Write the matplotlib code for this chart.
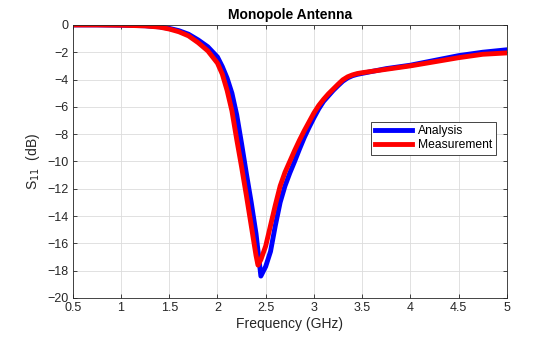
import matplotlib
matplotlib.use("Agg")
import matplotlib.pyplot as plt

# frequency points (GHz) and S11 (dB)
freq_analysis = [0.5, 0.75, 1.0, 1.25, 1.4, 1.5, 1.6, 1.7, 1.8, 1.9, 2.0, 2.05,
                 2.1, 2.15, 2.2, 2.25, 2.3, 2.35, 2.4, 2.45, 2.5, 2.55, 2.6,
                 2.65, 2.7, 2.75, 2.8, 2.85, 2.9, 2.95, 3.0, 3.05, 3.1, 3.15,
                 3.2, 3.25, 3.3, 3.35, 3.4, 3.45, 3.5, 3.75, 4.0, 4.25, 4.5,
                 4.75, 5.0]
s11_analysis = [0.0, 0.0, -0.02, -0.06, -0.14, -0.25, -0.42, -0.68, -1.1, -1.6,
                -2.35, -3.05, -3.9, -5.0, -6.6, -8.7, -10.9, -13.0, -15.3, -18.4,
                -17.7, -16.6, -14.7, -13.0, -11.8, -10.85, -10.0, -9.1, -8.25,
                -7.5, -6.8, -6.15, -5.6, -5.2, -4.8, -4.45, -4.12, -3.88,
                -3.72, -3.62, -3.55, -3.2, -2.95, -2.6, -2.25, -2.0, -1.82]

freq_meas = [0.5, 0.75, 1.0, 1.25, 1.4, 1.5, 1.6, 1.7, 1.8, 1.9, 2.0, 2.05,
             2.1, 2.15, 2.2, 2.25, 2.3, 2.35, 2.4, 2.42, 2.45, 2.5, 2.55,
             2.6, 2.65, 2.7, 2.75, 2.8, 2.85, 2.9, 2.95, 3.0, 3.05, 3.1,
             3.15, 3.2, 3.25, 3.3, 3.35, 3.4, 3.45, 3.5, 3.75, 4.0, 4.25,
             4.5, 4.75, 5.0]
s11_meas = [0.0, 0.0, -0.02, -0.07, -0.16, -0.3, -0.5, -0.8, -1.3, -1.9,
            -2.8, -3.6, -4.8, -6.3, -8.4, -10.4, -12.5, -14.7, -16.9, -17.6,
            -17.2, -16.2, -14.7, -13.2, -11.8, -10.8, -10.0, -9.2, -8.45,
            -7.75, -7.1, -6.45, -5.9, -5.45, -5.05, -4.7, -4.35, -4.02,
            -3.8, -3.66, -3.56, -3.5, -3.25, -3.0, -2.7, -2.4, -2.15, -2.05]

xticks = [0.5, 1, 1.5, 2, 2.5, 3, 3.5, 4, 4.5, 5]
xtick_labels = ['0.5', '1', '1.5', '2', '2.5', '3', '3.5', '4', '4.5', '5']
yticks = list(range(-20, 1, 2))

plt.rcParams['font.family'] = ['Liberation Sans', 'DejaVu Sans']

fig = plt.figure(figsize=(5.6, 3.37), dpi=100)
ax = fig.add_axes([0.130, 0.116, 0.775, 0.810])

ax.plot(freq_analysis, s11_analysis, color='#0000ff', linewidth=3.5,
        solid_joinstyle='round', label='Analysis')
ax.plot(freq_meas, s11_meas, color='#ff0000', linewidth=3.5,
        solid_joinstyle='round', label='Measurement')

ax.set_xlim(0.5, 5)
ax.set_ylim(-20, 0)
ax.set_xticks(xticks)
ax.set_xticklabels(xtick_labels)
ax.set_yticks(yticks)
ax.tick_params(direction='in', top=True, right=True, labelsize=9, length=3,
               width=0.6, colors='#262626', pad=3)
ax.grid(True, color='#dcdcdc', linewidth=0.6)
ax.set_axisbelow(True)
for sp in ax.spines.values():
    sp.set_linewidth(0.6)
    sp.set_color('#262626')

ax.set_title('Monopole Antenna', fontsize=10, fontweight='bold', pad=4)
ax.set_xlabel('Frequency (GHz)', fontsize=10, color='#262626', labelpad=2)
ax.set_ylabel('S$_{11}$  (dB)', fontsize=10, color='#262626', labelpad=4)

leg = ax.legend(loc='upper right', bbox_to_anchor=(0.975, 0.645), fontsize=8.7,
                fancybox=False, edgecolor='#262626', framealpha=1,
                borderaxespad=0, handlelength=3.1, borderpad=0.3,
                labelspacing=0.15, handletextpad=0.5)
leg.get_frame().set_linewidth(0.6)

plt.savefig('out.png', dpi=100)
